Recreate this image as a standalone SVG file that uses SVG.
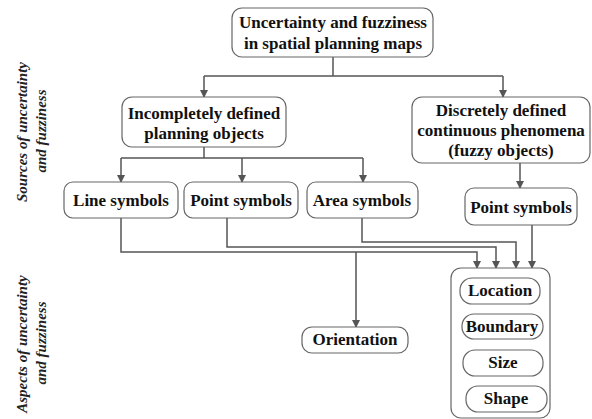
<svg xmlns="http://www.w3.org/2000/svg" width="592" height="419" viewBox="0 0 592 419">
<defs>
<marker id="ah" markerWidth="8" markerHeight="8" refX="7" refY="4" orient="auto" markerUnits="userSpaceOnUse">
<path d="M0,0 L8,4 L0,8 Z" fill="#555"/>
</marker>
<style>
.box{fill:#fff;stroke:#666;stroke-width:1.2}
.t{font-family:'Liberation Serif','Times New Roman',serif;font-weight:bold;font-size:17px;fill:#111;text-anchor:middle}
.s{font-family:'Liberation Serif','Times New Roman',serif;font-weight:bold;font-style:italic;font-size:15px;fill:#222;text-anchor:middle}
.c{fill:none;stroke:#555;stroke-width:1.5}
.ca{fill:none;stroke:#555;stroke-width:1.5;marker-end:url(#ah)}
</style>
</defs>
<rect width="592" height="419" fill="#fff"/>
<g id="side-labels">
<text class="s" transform="translate(27,132) rotate(-90)">Sources of uncertainty</text>
<text class="s" transform="translate(46,131) rotate(-90)">and fuzziness</text>
<text class="s" transform="translate(27,344) rotate(-90)">Aspects of uncertainty</text>
<text class="s" transform="translate(46,343) rotate(-90)">and fuzziness</text>
</g>
<g id="connectors">
<path class="c" d="M333,57 V76 M204,76 H503"/>
<path class="ca" d="M204,76 V97"/>
<path class="ca" d="M503,76 V97"/>
<path class="c" d="M204,147 V158 M121,158 H363"/>
<path class="ca" d="M121,158 V182"/>
<path class="ca" d="M242,158 V182"/>
<path class="ca" d="M363,158 V182"/>
<path class="ca" d="M520,163 V188"/>
<path class="ca" d="M121,218 V252 H477 V268"/>
<path class="ca" d="M227,218 V247 H496 V268"/>
<path class="ca" d="M362,218 V242 H516 V268"/>
<path class="ca" d="M532,225 V268"/>
<path class="ca" d="M356,252 V327"/>
</g>
<g id="n-root">
<rect class="box" x="232" y="8" width="201" height="49" rx="10"/>
<text class="t" x="333" y="28">Uncertainty and fuzziness</text>
<text class="t" x="333" y="49">in spatial planning maps</text>
</g>
<g id="n-incomplete">
<rect class="box" x="122" y="97" width="164" height="50" rx="10"/>
<text class="t" x="204" y="119">Incompletely defined</text>
<text class="t" x="204" y="139">planning objects</text>
</g>
<g id="n-discrete">
<rect class="box" x="412" y="97" width="178" height="66" rx="10"/>
<text class="t" x="501" y="116">Discretely defined</text>
<text class="t" x="501" y="136">continuous phenomena</text>
<text class="t" x="501" y="156">(fuzzy objects)</text>
</g>
<g id="n-line">
<rect class="box" x="64" y="182" width="114" height="36" rx="9"/>
<text class="t" x="121" y="206">Line symbols</text>
</g>
<g id="n-point1">
<rect class="box" x="184" y="182" width="114" height="36" rx="9"/>
<text class="t" x="241" y="206">Point symbols</text>
</g>
<g id="n-area">
<rect class="box" x="307" y="182" width="111" height="36" rx="9"/>
<text class="t" x="362" y="206">Area symbols</text>
</g>
<g id="n-point2">
<rect class="box" x="465" y="188" width="112" height="37" rx="9"/>
<text class="t" x="521" y="213">Point symbols</text>
</g>
<g id="n-orientation">
<rect class="box" x="302" y="327" width="106" height="26" rx="10"/>
<text class="t" x="355" y="345">Orientation</text>
</g>
<g id="n-aspects">
<rect class="box" x="451" y="268" width="99" height="150" rx="10"/>
</g>
<g id="n-location">
<rect class="box" x="460" y="278" width="80" height="26" rx="12"/>
<text class="t" x="500" y="296">Location</text>
</g>
<g id="n-boundary">
<rect class="box" x="462" y="314" width="81" height="25" rx="12"/>
<text class="t" x="502" y="332">Boundary</text>
</g>
<g id="n-size">
<rect class="box" x="463" y="350" width="80" height="26" rx="12"/>
<text class="t" x="503" y="368">Size</text>
</g>
<g id="n-shape">
<rect class="box" x="466" y="386" width="81" height="26" rx="12"/>
<text class="t" x="506" y="404">Shape</text>
</g>
</svg>
